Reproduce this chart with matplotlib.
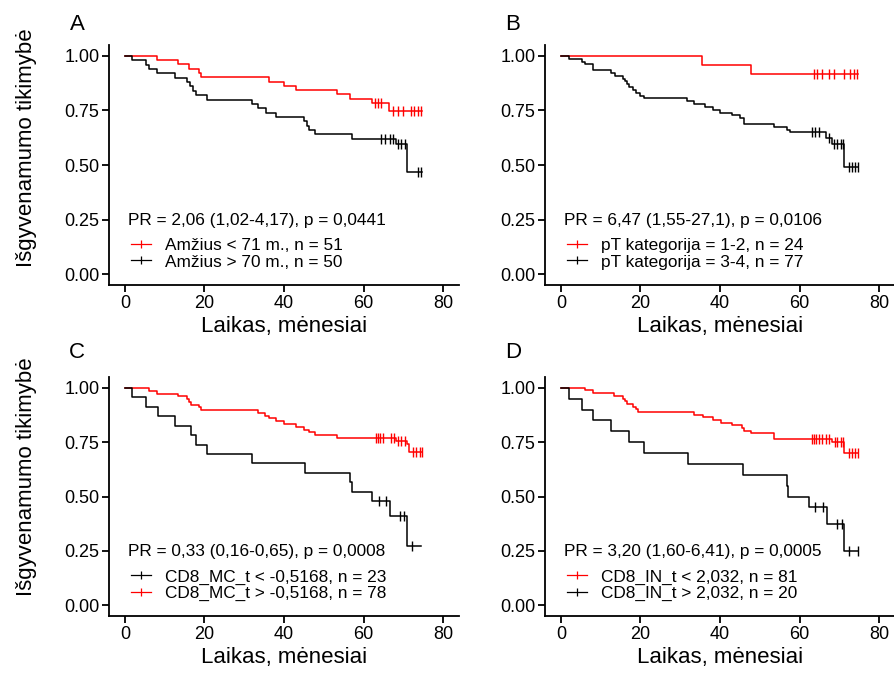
import numpy as np
import matplotlib
matplotlib.use("Agg")
import matplotlib.pyplot as plt
from matplotlib.lines import Line2D

plt.rcParams['font.family'] = ['Liberation Sans', 'DejaVu Sans']

# ---------------- Panel A ----------------
a_red_t = [0, 8.1, 13.35, 16.2, 18.6, 19.2, 36.3, 40.0, 43.0, 53.3, 56.5, 62.2, 66.5]
a_red_s = [1.0, 0.980, 0.961, 0.941, 0.922, 0.902, 0.882, 0.863, 0.843, 0.824, 0.804, 0.784, 0.748]
a_red_cens = [62.8, 63.6, 64.5, 67.4, 68.7, 69.9, 72.0, 72.8, 73.7, 74.4]
a_red_end = 74.6
a_blk_t = [0, 1.9, 5.2, 6.1, 8.0, 12.5, 15.7, 16.3, 17.0, 18.0, 20.7, 32.0, 33.5, 35.4, 38.1,
           45.0, 45.8, 46.4, 47.8, 57.1, 68.1, 71.0]
a_blk_s = [1.0, 0.98, 0.96, 0.94, 0.92, 0.90, 0.88, 0.86, 0.84, 0.82, 0.80, 0.78, 0.76, 0.74, 0.72,
           0.70, 0.68, 0.66, 0.64, 0.62, 0.596, 0.466]
a_blk_cens = [64.5, 65.3, 66.6, 67.4, 68.7, 69.5, 70.4, 73.7, 74.5]
a_blk_end = 74.6

# ---------------- Panel B ----------------
b_red_t = [0, 35.4, 47.9]
b_red_s = [1.0, 0.958, 0.917]
b_red_cens = [63.6, 64.4, 65.6, 67.5, 68.6, 71.3, 72.8, 73.6, 74.4]
b_red_end = 74.7
b_blk_t = [0, 2.0, 5.2, 6.1, 8.1, 12.6, 13.6, 15.7, 16.1, 16.7, 17.2, 18.2, 19.0, 19.9, 20.9,
           31.7, 33.5, 36.3, 38.2, 40.1, 43.0, 45.1, 46.1, 53.5, 56.8, 57.5, 66.7, 68.1, 71.3]
b_blk_s = [1.0, 0.987, 0.974, 0.961, 0.935, 0.922, 0.909, 0.896, 0.883, 0.870, 0.857, 0.844, 0.831,
           0.818, 0.805, 0.792, 0.779, 0.766, 0.753, 0.740, 0.727, 0.714, 0.688, 0.675, 0.662,
           0.649, 0.624, 0.597, 0.492]
b_blk_cens = [63.2, 64.0, 64.8, 67.3, 68.6, 69.5, 70.3, 71.0, 72.4, 73.2, 74.0, 74.7]
b_blk_end = 74.8

# ---------------- Panel C ----------------
c_blk_t = [0, 1.9, 5.2, 8.2, 12.5, 16.7, 18.0, 20.7, 32.0, 45.4, 56.5, 57.1, 62.2, 66.7, 70.9]
c_blk_s = [1.0, 0.957, 0.913, 0.870, 0.826, 0.783, 0.739, 0.696, 0.652, 0.609, 0.565, 0.522,
           0.478, 0.410, 0.273]
c_blk_cens = [63.9, 65.6, 69.1, 70.2, 72.2]
c_blk_end = 74.5
c_red_t = [0, 6.1, 8.0, 13.35, 15.7, 16.2, 16.5, 18.6, 19.2, 33.4, 35.2, 36.3, 38.1, 40.0, 43.0,
           45.0, 46.3, 47.8, 53.3, 68.1, 70.9, 71.4]
c_red_s = [1.0, 0.987, 0.974, 0.962, 0.949, 0.936, 0.923, 0.910, 0.897, 0.885, 0.872, 0.859,
           0.846, 0.833, 0.821, 0.808, 0.795, 0.782, 0.769, 0.755, 0.741, 0.706]
c_red_cens = [63.1, 63.6, 64.2, 64.9, 67.0, 67.6, 68.7, 69.5, 70.4, 72.4, 73.2, 74.1, 74.6]
c_red_end = 74.7

# ---------------- Panel D ----------------
d_red_t = [0, 6.1, 8.1, 13.4, 15.5, 16.1, 16.5, 18.2, 19.0, 19.4, 33.5, 35.8, 38.2, 40.2, 43.0,
           45.5, 46.1, 47.8, 53.5, 68.1, 71.3]
d_red_s = [1.0, 0.988, 0.975, 0.963, 0.951, 0.938, 0.926, 0.914, 0.901, 0.889, 0.877, 0.864,
           0.852, 0.840, 0.827, 0.815, 0.802, 0.790, 0.765, 0.752, 0.698]
d_red_cens = [63.2, 63.7, 64.2, 64.8, 65.6, 66.7, 67.3, 68.8, 69.5, 70.3, 71.0, 72.4, 73.2,
              74.0, 74.6]
d_red_end = 74.7
d_blk_t = [0, 2.0, 5.2, 8.1, 12.6, 17.0, 20.9, 31.9, 45.7, 56.8, 57.2, 62.3, 66.8, 71.2]
d_blk_s = [1.0, 0.95, 0.90, 0.85, 0.80, 0.75, 0.70, 0.65, 0.60, 0.55, 0.50, 0.45, 0.375, 0.25]
d_blk_cens = [64.0, 66.0, 69.3, 70.8, 72.4, 74.7]
d_blk_end = 74.7

panel_letters = ['A', 'B', 'C', 'D']
pr_texts = ['PR = 2,06 (1,02-4,17), p = 0,0441',
            'PR = 6,47 (1,55-27,1), p = 0,0106',
            'PR = 0,33 (0,16-0,65), p = 0,0008',
            'PR = 3,20 (1,60-6,41), p = 0,0005']
legend_labels = [
    ['Amžius < 71 m., n = 51', 'Amžius > 70 m., n = 50'],
    ['pT kategorija = 1-2, n = 24', 'pT kategorija = 3-4, n = 77'],
    ['CD8_MC_t < -0,5168, n = 23', 'CD8_MC_t > -0,5168, n = 78'],
    ['CD8_IN_t < 2,032, n = 81', 'CD8_IN_t > 2,032, n = 20'],
]
RED = '#FF0000'
BLK = '#000000'
legend_colors = [[RED, BLK], [RED, BLK], [BLK, RED], [RED, BLK]]

curves = [
    [(a_red_t, a_red_s, a_red_cens, a_red_end, RED), (a_blk_t, a_blk_s, a_blk_cens, a_blk_end, BLK)],
    [(b_red_t, b_red_s, b_red_cens, b_red_end, RED), (b_blk_t, b_blk_s, b_blk_cens, b_blk_end, BLK)],
    [(c_red_t, c_red_s, c_red_cens, c_red_end, RED), (c_blk_t, c_blk_s, c_blk_cens, c_blk_end, BLK)],
    [(d_red_t, d_red_s, d_red_cens, d_red_end, RED), (d_blk_t, d_blk_s, d_blk_cens, d_blk_end, BLK)],
]

x_ticks = [0, 20, 40, 60, 80]
y_ticks = [0.0, 0.25, 0.5, 0.75, 1.0]
x_label = 'Laikas, mėnesiai'
y_label = 'Išgyvenamumo tikimybė'

W, H = 895, 676
fig = plt.figure(figsize=(W / 100, H / 100), dpi=100)

# axes rectangles in pixels: left, top, right, bottom
rects = [(109, 45, 459, 285), (545, 45, 895, 285),
         (109, 377, 459, 616), (545, 377, 895, 616)]

for i, (l, t, r, b) in enumerate(rects):
    ax = fig.add_axes([l / W, 1 - b / H, (r - l) / W, (b - t) / H])
    for (tt, ss, cc, end, col) in curves[i]:
        tt = np.asarray(tt, float)
        ss = np.asarray(ss, float)
        xs = np.append(tt, end)
        ys = np.append(ss, ss[-1])
        ax.step(xs, ys, where='post', color=col, lw=1.1, zorder=3)
        cc = np.asarray(cc, float)
        idx = np.searchsorted(tt, cc, side='right') - 1
        ax.plot(cc, ss[idx], ls='none', marker='|', ms=6.5, mew=1.0, color=col, zorder=4)
    ax.set_xlim(-4, 84)
    ax.set_ylim(-0.05, 1.05)
    ax.set_xticks(x_ticks)
    ax.set_yticks(y_ticks)
    ax.set_yticklabels(['%.2f' % v for v in y_ticks])
    for s in ['top', 'right']:
        ax.spines[s].set_visible(False)
    for s in ['left', 'bottom']:
        ax.spines[s].set_linewidth(1.3)
        ax.spines[s].set_color('black')
    ax.tick_params(axis='both', which='major', length=5, width=1.3, labelsize=13,
                   colors='black', pad=2)
    ax.set_xlabel(x_label, fontsize=16, labelpad=3)
    ax.text(0.054, 0.27, pr_texts[i], transform=ax.transAxes, fontsize=12.4,
            va='center', ha='left')
    handles = [Line2D([], [], color=c, lw=0.9, marker='|', ms=6, mew=0.9)
               for c in legend_colors[i]]
    ax.legend(handles, legend_labels[i], loc='upper left',
              bbox_to_anchor=(0.063, 0.195), frameon=False, fontsize=12.4,
              handlelength=1.15, handletextpad=0.8, labelspacing=0.07,
              borderaxespad=0, borderpad=0)
    fig.text((l - 32) / W, 1 - 25 / H if i < 2 else 1 - 352 / H, panel_letters[i],
             fontsize=16, ha='center', va='center')

fig.text(27 / W, 1 - 148 / H, y_label, rotation=90, fontsize=16, ha='center', va='center')
fig.text(27 / W, 1 - 477 / H, y_label, rotation=90, fontsize=16, ha='center', va='center')

fig.savefig('out.png', dpi=100)
